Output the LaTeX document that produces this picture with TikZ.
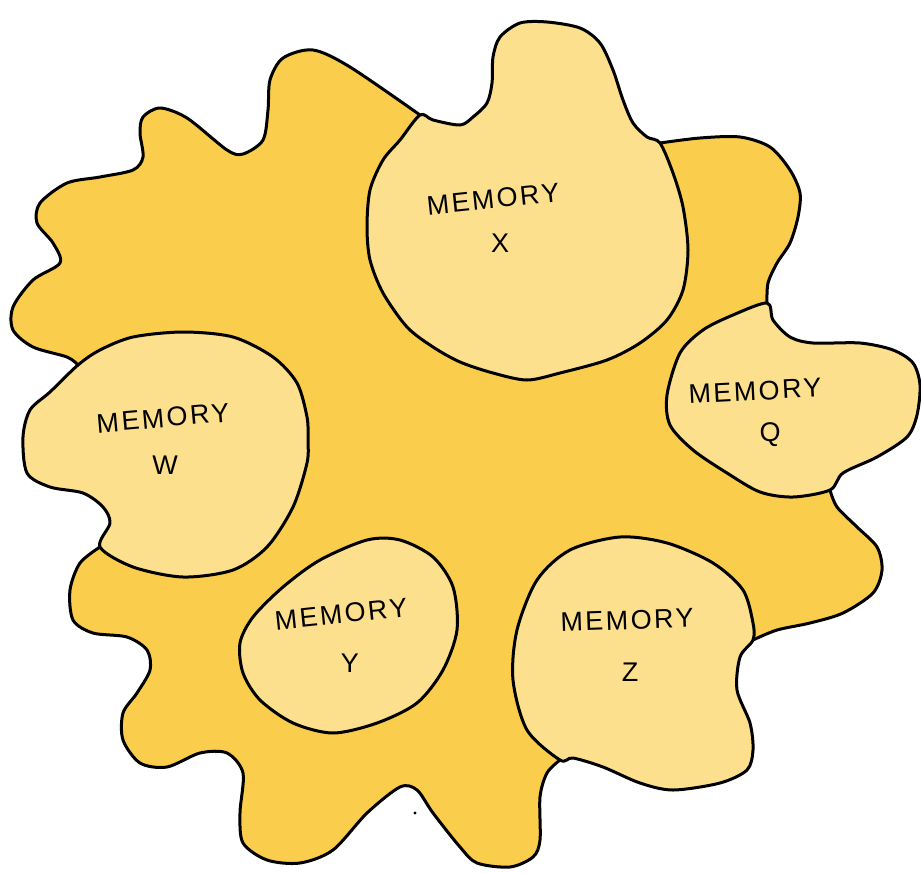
\documentclass[tikz,border=0pt]{standalone}
\usepackage{fontspec}
\setmainfont{Liberation Sans}[LetterSpace=9]
\definecolor{bigyellow}{RGB}{251,205,76}
\definecolor{lightyellow}{RGB}{252,224,142}
\begin{document}
\begin{tikzpicture}[x=1pt,y=-1pt,
  outline/.style={draw=black,line width=3pt,line join=round,line cap=round},
  bigfill/.style={outline,fill=bigyellow},
  memfill/.style={outline,fill=lightyellow},
  lbl/.style={font=\fontsize{27}{30}\selectfont,text=black,inner sep=0pt}]
\useasboundingbox (0,0) rectangle (921,873);
% big blob
\path[bigfill]
  plot[smooth] coordinates {(420,115) (350,67) (313,50) (283,58) (270,80) (268,110) (263,140) (243,154) (227,150) (187,118) (160,108) (143,117) (140,133) (143,157) (133,170) (100,177) (67,183) (40,203) (37,223) (53,243) (60,263) (33,280) (13,307) (13,330) (33,347) (67,357) (78,365)}
  -- (150,450)
  -- plot[smooth] coordinates {(100,547) (80,563) (70,590) (73,620) (93,633) (127,637) (147,650) (150,670) (137,693) (123,713) (123,740) (140,763) (167,767) (200,753) (227,753) (243,773) (240,813) (243,843) (267,860) (300,863) (333,850) (367,813) (400,787) (417,790) (433,813) (460,847) (477,863) (510,867) (533,857) (540,840) (540,797) (547,773) (560,760)}
  -- (640,690)
  -- plot[smooth] coordinates {(753,640) (777,630) (810,623) (843,613) (873,593) (882,570) (877,547) (857,527) (837,507) (830,490)}
  -- (770,400)
  -- plot[smooth] coordinates {(767,303) (768,283) (777,263) (790,243) (798,217) (800,193) (790,170) (770,147) (740,137) (700,138) (660,143)}
  -- (540,230) -- cycle;
% memory X
\path[memfill] plot[smooth cycle] coordinates {(420,115) (433,120) (460,125) (473,117) (487,103) (492,83) (493,57) (500,37) (520,23) (547,22) (580,28) (600,43) (613,70) (623,100) (633,123) (647,137) (660,143) (673,173) (683,207) (688,250) (683,290) (667,320) (640,343) (607,360) (560,373) (527,380) (493,373) (460,362) (433,347) (407,327) (383,293) (370,260) (367,227) (370,190) (383,160) (400,140)};
% memory W
\path[memfill] plot[smooth cycle] coordinates {(78,365) (100,350) (133,337) (183,332) (233,337) (273,357) (297,383) (307,417) (308,440) (307,463) (293,507) (267,547) (233,570) (183,577) (133,567) (100,547) (110,523) (103,507) (83,493) (50,487) (27,473) (23,437) (30,410) (50,392)};
% memory Q
\path[memfill] plot[smooth cycle] coordinates {(767,303) (773,320) (790,337) (813,343) (860,343) (893,350) (913,363) (920,385) (917,415) (907,437) (877,457) (843,473) (830,490) (793,497) (760,492) (727,473) (693,450) (670,425) (667,395) (680,353) (703,330) (733,315)};
% memory Y
\path[memfill] plot[smooth cycle] coordinates {(240,643) (253,617) (283,587) (320,560) (367,540) (400,540) (433,557) (453,587) (457,630) (443,670) (417,703) (377,723) (333,733) (293,723) (260,700) (243,673)};
% memory Z
\path[memfill] plot[smooth cycle] coordinates {(560,760) (527,730) (513,680) (517,630) (537,580) (570,550) (620,537) (667,543) (713,563) (743,590) (753,623) (753,640) (740,657) (737,690) (750,723) (753,750) (747,770) (720,783) (673,790) (640,783) (603,767) (573,758)};
% speck
\fill (415,813) circle (1.6);
% labels
\node[lbl,rotate=6] (memX) at (493,199) {MEMORY};
\node[lbl] (idX) at (500,243) {X};
\node[lbl,rotate=5] (memW) at (163,418) {MEMORY};
\node[lbl] (idW) at (165,465) {W};
\node[lbl,rotate=3] (memQ) at (755,391) {MEMORY};
\node[lbl] (idQ) at (770,435) {Q};
\node[lbl,rotate=6] (memY) at (341,614) {MEMORY};
\node[lbl] (idY) at (350,663) {Y};
\node[lbl,rotate=2] (memZ) at (627,620) {MEMORY};
\node[lbl] (idZ) at (630,672) {Z};
\end{tikzpicture}
\end{document}
